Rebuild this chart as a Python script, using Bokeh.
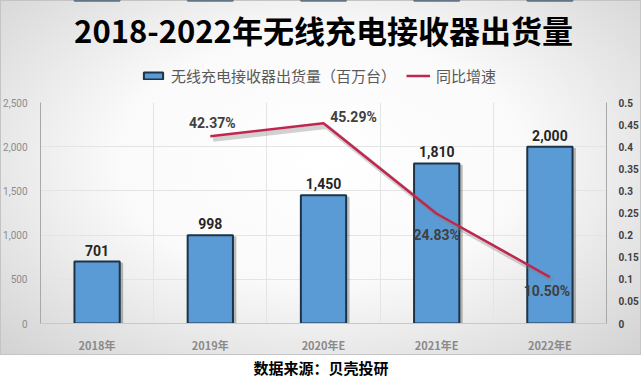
from bokeh.plotting import figure
from bokeh.models import (ColumnDataSource, Range1d, LinearAxis, FixedTicker,
                          NumeralTickFormatter, LabelSet, Legend, LegendItem, Label)
from bokeh.transform import dodge
from bokeh.layouts import column
from bokeh.embed import file_html
from bokeh.resources import INLINE
from bokeh.core.properties import value

# ---------------- data ----------------
title_text = "2018-2022年无线充电接收器出货量"
categories = ["2018年", "2019年", "2020年E", "2021年E", "2022年E"]
shipments = [701, 998, 1450, 1810, 2000]
shipment_labels = ["701", "998", "1,450", "1,810", "2,000"]
growth_years = ["2019年", "2020年E", "2021年E", "2022年E"]
growth = [0.4237, 0.4529, 0.2483, 0.1050]
growth_labels = ["42.37%", "45.29%", "24.83%", "10.50%"]
left_ticks = [0, 500, 1000, 1500, 2000, 2500]
right_ticks = [0, 0.05, 0.1, 0.15, 0.2, 0.25, 0.3, 0.35, 0.4, 0.45, 0.5]
right_tick_labels = ["0", "0.05", "0.1", "0.15", "0.2", "0.25", "0.3", "0.35", "0.4", "0.45", "0.5"]
bar_series_name = "无线充电接收器出货量（百万台）"
line_series_name = "同比增速"
source_text = "数据来源：贝壳投研"

# ---------------- label placement styles (screen px) ----------------
pct_x_offsets = [2, 30, 0, -3]
pct_y_offsets = [13, 6, -21, -14]

CJK = "Noto Sans CJK SC"
NUM = "Roboto"
BAR_FILL = "#5b9bd5"
BAR_LINE = "#1d3346"
LINE_COLOR = "#c0264e"

W = 641
HEAD_H = 94
MAIN_H = 261
SRC_H = 26

x_idx = list(range(len(categories)))
bar_src = ColumnDataSource(dict(x=x_idx, cat=categories, top=shipments, lab=shipment_labels))
gx = [categories.index(c) for c in growth_years]
line_src = ColumnDataSource(dict(x=gx, y=growth, lab=growth_labels,
                                 xo=pct_x_offsets, yo=pct_y_offsets))
xr = (-0.5, len(categories) - 0.5)

# ---------------- header (title + legend) ----------------
# the header shares the series; its y window lies below all values so only the legend shows them
h = figure(width=W, height=HEAD_H, output_backend="svg", toolbar_location=None,
           x_range=Range1d(*xr), y_range=Range1d(-2, -1),
           x_axis_location=None, y_axis_location=None, min_border=0)
h.grid.visible = False
h.outline_line_color = None
h.border_fill_alpha = 0
h.background_fill_alpha = 0
h.add_layout(Label(x=(xr[0] + xr[1]) / 2, y=-1 - 29 / HEAD_H, text=title_text, text_align="center",
                   text_baseline="middle", text_font=CJK, text_font_size="31px",
                   text_font_style="bold", text_color="#000000"))
lb = h.vbar(x="x", top="top", width=0.4, source=bar_src, fill_color=BAR_FILL,
            line_color=BAR_LINE, line_width=2)
ll = h.line(x="x", y="y", source=line_src, line_color=LINE_COLOR, line_width=2.5)
legend = Legend(items=[LegendItem(label=bar_series_name, renderers=[lb]),
                       LegendItem(label=line_series_name, renderers=[ll])],
                orientation="horizontal", location=(101, 8),
                label_text_font=CJK, label_text_font_size="15px",
                label_text_color="#595959", glyph_width=24, glyph_height=9,
                spacing=10, label_standoff=6, background_fill_alpha=0,
                border_line_color=None, padding=3, margin=0)
h.add_layout(legend)

# ---------------- main chart ----------------
p = figure(width=W, height=MAIN_H, output_backend="svg", toolbar_location=None,
           x_range=Range1d(*xr),
           y_range=Range1d(left_ticks[0], left_ticks[-1]),
           min_border_left=40, min_border_right=35, min_border_top=8, min_border_bottom=30)
p.extra_y_ranges = {"pct": Range1d(right_ticks[0], right_ticks[-1])}
p.border_fill_alpha = 0
p.background_fill_alpha = 0
p.outline_line_color = None

p.ygrid.ticker = FixedTicker(ticks=left_ticks)
p.ygrid.grid_line_color = "#e4e4e4"
p.xgrid.ticker = FixedTicker(ticks=[i + 0.5 for i in x_idx[:-1]])
p.xgrid.grid_line_color = "#e4e4e4"

xa = p.xaxis[0]
xa.ticker = FixedTicker(ticks=x_idx)
xa.major_label_overrides = {i: c for i, c in zip(x_idx, categories)}
xa.axis_line_color = "#c8c8c8"
xa.major_tick_line_color = None
xa.minor_tick_line_color = None
xa.major_label_text_font = CJK
xa.major_label_text_font_size = "11px"
xa.major_label_text_font_style = "bold"
xa.major_label_text_color = "#8a8a8a"
xa.major_label_standoff = 7

ya = p.yaxis[0]
ya.ticker = FixedTicker(ticks=left_ticks)
ya.formatter = NumeralTickFormatter(format="0,0")
ya.axis_line_color = "#a8a8a8"
ya.major_tick_line_color = None
ya.minor_tick_line_color = None
ya.major_label_text_font = NUM
ya.major_label_text_font_size = "10px"
ya.major_label_text_color = "#8c8c8c"
ya.major_label_standoff = 7

ra = LinearAxis(y_range_name="pct", ticker=FixedTicker(ticks=right_ticks))
ra.major_label_overrides = {t: l for t, l in zip(right_ticks, right_tick_labels)}
ra.axis_line_color = "#a8a8a8"
ra.major_tick_line_color = None
ra.minor_tick_line_color = None
ra.major_label_text_font = NUM
ra.major_label_text_font_size = "10px"
ra.major_label_text_font_style = "bold"
ra.major_label_text_color = "#404040"
ra.major_label_standoff = 6
p.add_layout(ra, "right")

# bars with soft shadow
p.vbar(x=dodge("x", 0.03), top=dodge("top", -15), width=0.4, bottom=0, source=bar_src,
       fill_color="#000000", fill_alpha=0.25, line_color=None)
p.vbar(x="x", top="top", width=0.4, bottom=0, source=bar_src,
       fill_color=BAR_FILL, line_color=BAR_LINE, line_width=2)
p.add_layout(LabelSet(x="x", y="top", text="lab", source=bar_src, y_offset=6,
                      text_align="center", text_baseline="bottom",
                      text_font=value(NUM), text_font_size="14px", text_font_style="bold",
                      text_color="#262626"))

# growth line with shadow
p.line(x=dodge("x", 0.025), y=dodge("y", -0.007), source=line_src, y_range_name="pct",
       line_color="#7f7f7f", line_alpha=0.35, line_width=5)
p.line(x="x", y="y", source=line_src, y_range_name="pct",
       line_color=LINE_COLOR, line_width=2.5)
p.add_layout(LabelSet(x="x", y="y", text="lab", source=line_src, y_range_name="pct",
                      x_offset="xo", y_offset="yo",
                      text_align="center", text_baseline="middle",
                      text_font=value(NUM), text_font_size="14px", text_font_style="bold",
                      text_color="#404040"))

chart = column(h, p, spacing=0)
chart.styles = {"background": "radial-gradient(ellipse at 50% 45%, #ffffff 0%, #fafafa 45%, #d2d2d2 100%)",
                "box-shadow": "inset 0 0 0 1px #c4c4c4"}

# ---------------- source line ----------------
s = figure(width=W, height=SRC_H, output_backend="svg", toolbar_location=None,
           x_range=Range1d(0, 1), y_range=Range1d(0, 1),
           x_axis_location=None, y_axis_location=None, min_border=0)
s.grid.visible = False
s.outline_line_color = None
s.background_fill_color = "#ffffff"
s.border_fill_color = "#ffffff"
s.add_layout(Label(x=0.5, y=1 - 12 / SRC_H, text=source_text, text_align="center",
                   text_baseline="middle", text_font=CJK, text_font_size="15px",
                   text_font_style="bold", text_color="#000000"))

layout = column(chart, s, spacing=0)
open("out.html", "w").write(file_html(layout, INLINE))
